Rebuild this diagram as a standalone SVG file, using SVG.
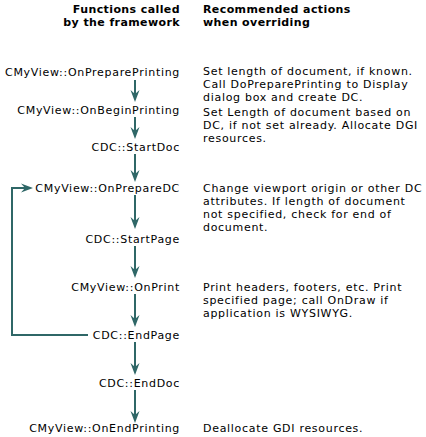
<svg xmlns="http://www.w3.org/2000/svg" width="426" height="437" viewBox="0 0 426 437">
<style>
text{font-family:"DejaVu Sans","Verdana",sans-serif;font-size:11px;fill:#000;letter-spacing:0.7px}
.h{font-weight:bold;letter-spacing:0.4px}
.r{text-anchor:end}
.c{fill:none;stroke:#2f6767;stroke-width:2}
</style>
<defs>
<marker id="ah" markerUnits="userSpaceOnUse" viewBox="-12 -5 12 10" markerWidth="12" markerHeight="10" refX="-5" refY="0" orient="auto" overflow="visible">
<path d="M0,0 L-12,-4.5 L-8,0 L-12,4.5 Z" fill="#2f6767"/>
</marker>
</defs>
<rect width="426" height="437" fill="#fff"/>
<g id="headers">
<text class="h r" x="180" y="13">Functions called</text>
<text class="h r" x="180" y="26">by the framework</text>
<text class="h" x="203" y="13">Recommended actions</text>
<text class="h" x="203" y="26">when overriding</text>
</g>
<g id="connectors">
<path class="c" d="M135 80 V97" marker-end="url(#ah)"/>
<path class="c" d="M135 117 V134" marker-end="url(#ah)"/>
<path class="c" d="M135 154 V177" marker-end="url(#ah)"/>
<path class="c" d="M135 195 V224" marker-end="url(#ah)"/>
<path class="c" d="M135 246 V273" marker-end="url(#ah)"/>
<path class="c" d="M135 294 V322" marker-end="url(#ah)"/>
<path class="c" d="M135 342 V370" marker-end="url(#ah)"/>
<path class="c" d="M135 390 V418" marker-end="url(#ah)"/>
<path class="c" d="M88 335 H12 V188 H28" marker-end="url(#ah)"/>
</g>
<g id="n1"><text class="r" x="180" y="75.5">CMyView::OnPreparePrinting</text>
<text x="203" y="74.5">Set length of document, if known.</text>
<text x="203" y="87.5">Call DoPreparePrinting to Display</text>
<text x="203" y="100.5">dialog box and create DC.</text></g>
<g id="n2"><text class="r" x="180" y="113.5">CMyView::OnBeginPrinting</text>
<text x="203" y="116">Set Length of document based on</text>
<text x="203" y="129">DC, if not set already. Allocate DGI</text>
<text x="203" y="142">resources.</text></g>
<g id="n3"><text class="r" x="180" y="150.5">CDC::StartDoc</text></g>
<g id="n4"><text class="r" x="180" y="191.5">CMyView::OnPrepareDC</text>
<text x="203" y="191.5">Change viewport origin or other DC</text>
<text x="203" y="204.5">attributes. If length of document</text>
<text x="203" y="217.5">not specified, check for end of</text>
<text x="203" y="230.5">document.</text></g>
<g id="n5"><text class="r" x="180" y="242.5">CDC::StartPage</text></g>
<g id="n6"><text class="r" x="180" y="290.5">CMyView::OnPrint</text>
<text x="203" y="290.5">Print headers, footers, etc. Print</text>
<text x="203" y="303.5">specified page; call OnDraw if</text>
<text x="203" y="316.5">application is WYSIWYG.</text></g>
<g id="n7"><text class="r" x="180" y="338.5">CDC::EndPage</text></g>
<g id="n8"><text class="r" x="180" y="386.5">CDC::EndDoc</text></g>
<g id="n9"><text class="r" x="180" y="432">CMyView::OnEndPrinting</text>
<text x="203" y="432">Deallocate GDI resources.</text></g>
</svg>
